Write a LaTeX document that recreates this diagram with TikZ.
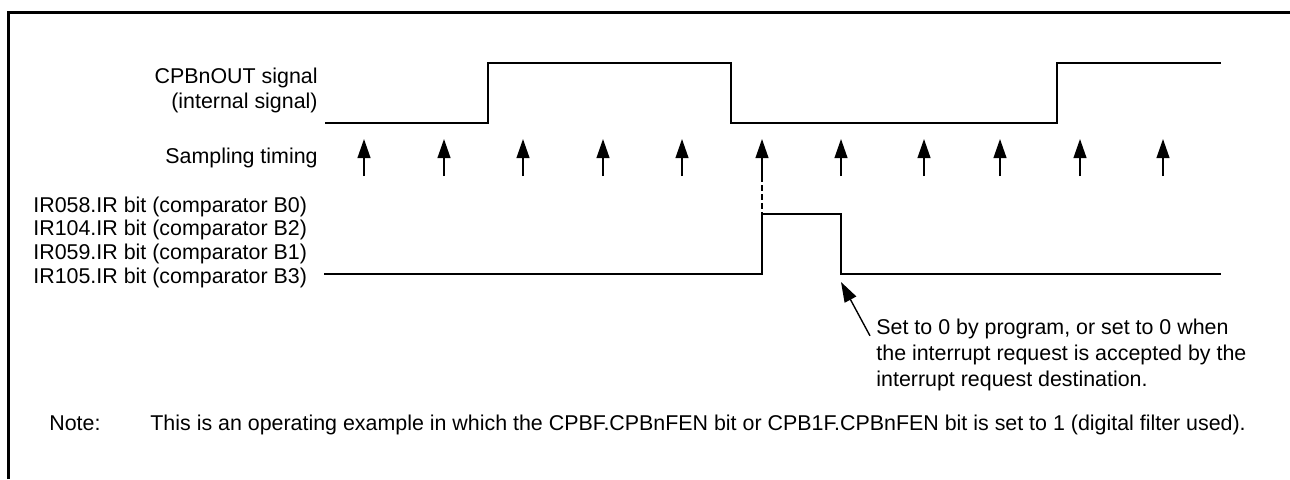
\documentclass[tikz,border=0pt]{standalone}
\usepackage{fontspec}
\setmainfont{Liberation Sans}
\usetikzlibrary{positioning,arrows.meta}

\begin{document}
\begin{tikzpicture}[x=0.5pt,y=-0.5pt,font=\fontsize{10.7}{12.5}\selectfont,
    wave/.style={line width=1pt,line join=miter},
    sample/.style={line width=0.8pt,-{Triangle[length=9.5pt,width=6.4pt]}},
    callout/.style={line width=0.7pt,-{Triangle[length=10pt,width=6.5pt]}},
    lbl/.style={anchor=base east,inner sep=0pt},
    txt/.style={anchor=base west,inner sep=0pt}]
  \useasboundingbox (0,0) rectangle (1290,479);
  \draw[line width=1.5pt] (8.5,479) |- (1290,12.5);

  % CPBnOUT signal
  \node[lbl] (outa) at (318,83) {CPBnOUT signal};
  \node[lbl] (outb) at (318,108) {(internal signal)};
  \draw[wave] (325,123) -- (488,123) -- (488,62.5) -- (730.5,62.5)
    -- (730.5,123) -- (1057,123) -- (1057,62.5) -- (1221,62.5);

  % sampling timing
  \node[lbl] (smp) at (318,163) {Sampling timing};
  \foreach \x [count=\i] in {364,444,523,603,682,762,841,924,1000,1080,1163}{
    \coordinate (sb\i) at (\x,176);
    \coordinate (st\i) at (\x,139);
    \draw[sample] (sb\i) -- (st\i);}

  % IR bits
  \foreach \t/\y [count=\i] in {IR058.IR bit (comparator B0)/212,
                               IR104.IR bit (comparator B2)/235.6,
                               IR059.IR bit (comparator B1)/259.2,
                               IR105.IR bit (comparator B3)/283}{
    \node[txt] (ir\i) at (33,\y) {\t};}
  \draw[wave] (324,274) -- (762,274) -- (762,214) -- (841,214)
    -- (841,274) -- (1221,274);
  \coordinate (irup) at (762,214);
  \draw[line width=1.1pt,dash pattern=on 3pt off 1.5pt] (sb6) -- (irup);

  % clear note
  \node[txt] (set1) at (876,334) {Set to 0 by program, or set to 0 when};
  \node[txt] (set2) at (876,360) {the interrupt request is accepted by the};
  \node[txt] (set3) at (876,386) {interrupt request destination.};
  \coordinate (clr) at (841,282);
  \draw[callout] ([shift={(-6,-3)}]set1.south west) -- (clr);

  % note
  \node[txt] (note) at (49,430) {Note:};
  \node[txt] (notet) at (150,430) {This is an operating example in which the CPBF.CPBnFEN bit or CPB1F.CPBnFEN bit is set to 1 (digital filter used).};
\end{tikzpicture}
\end{document}
